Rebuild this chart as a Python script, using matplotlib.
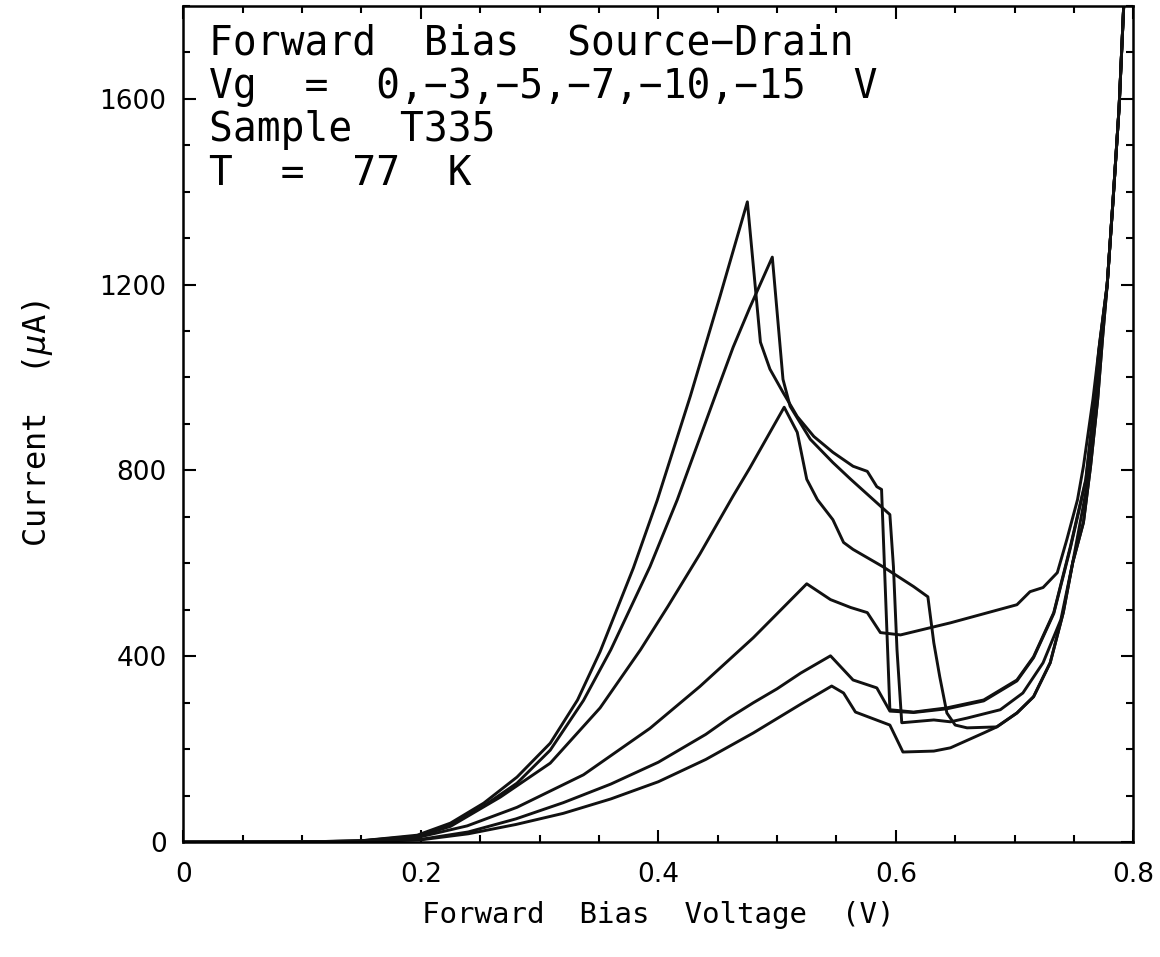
import matplotlib
matplotlib.use("Agg")
import matplotlib.pyplot as plt
from matplotlib.ticker import MultipleLocator

plt.rcParams['font.family'] = ['DejaVu Sans']
plt.rcParams['mathtext.fontset'] = 'dejavusans'

# Vg = 0 V
v1 = [0.0, 0.10, 0.15, 0.197, 0.225, 0.253, 0.281, 0.309, 0.332, 0.351, 0.379, 0.399, 0.427,
      0.452, 0.475, 0.486, 0.494, 0.505, 0.517, 0.531, 0.547, 0.564, 0.576, 0.584, 0.588,
      0.595, 0.615, 0.643, 0.674, 0.702, 0.716, 0.733, 0.747, 0.760, 0.766, 0.771, 0.778, 0.783,
      0.788, 0.792]
i1 = [0, 0.5, 3, 15, 41, 84, 140, 213, 306, 410, 590, 735, 960,
      1175, 1378, 1076, 1018, 968, 916, 873, 839, 809, 798, 765, 759,
      285, 280, 289, 306, 349, 399, 494, 636, 781, 920, 1060, 1200, 1384,
      1580, 1805]

# Vg = -3 V
v2 = [0.0, 0.10, 0.15, 0.197, 0.225, 0.253, 0.281, 0.309, 0.337, 0.360, 0.393, 0.416, 0.435,
      0.450, 0.463, 0.477, 0.496, 0.505, 0.511, 0.528, 0.547, 0.562, 0.595, 0.598, 0.601, 0.605,
      0.632, 0.646, 0.660, 0.688, 0.707, 0.724, 0.739, 0.749, 0.762, 0.768, 0.773, 0.778, 0.783,
      0.788, 0.792]
i2 = [0, 0.5, 3, 13, 37, 78, 127, 198, 305, 414, 593, 737, 870,
      975, 1065, 1150, 1259, 996, 938, 867, 817, 781, 705, 593, 414, 257,
      263, 259, 267, 285, 321, 386, 479, 602, 781, 930, 1075, 1200, 1384,
      1580, 1805]

# Vg = -5 V
v3 = [0.0, 0.10, 0.15, 0.197, 0.225, 0.267, 0.309, 0.351, 0.385, 0.408, 0.435, 0.463, 0.477,
      0.506, 0.517, 0.525, 0.534, 0.547, 0.556, 0.564, 0.589, 0.615, 0.627, 0.632, 0.637, 0.643,
      0.650, 0.660, 0.685, 0.702, 0.716, 0.730, 0.741, 0.749, 0.758, 0.764, 0.770, 0.774, 0.778,
      0.783, 0.788, 0.792]
i3 = [0, 0.4, 2.5, 12, 34, 97, 170, 289, 414, 507, 620, 745, 805,
      936, 882, 781, 737, 694, 645, 630, 593, 550, 528, 429, 356, 278,
      252, 246, 248, 278, 313, 386, 494, 602, 688, 809, 953, 1082, 1200,
      1384, 1580, 1805]

# Vg = -7 V
v4 = [0.0, 0.10, 0.15, 0.197, 0.239, 0.281, 0.337, 0.393, 0.435, 0.480, 0.525, 0.545,
      0.562, 0.576, 0.587, 0.604, 0.646, 0.702, 0.713, 0.724, 0.736, 0.744, 0.753, 0.758, 0.766,
      0.772, 0.778, 0.783, 0.788, 0.792]
i4 = [0, 0.3, 2, 10, 35, 75, 145, 245, 335, 440, 556, 522,
      505, 494, 451, 446, 472, 511, 539, 548, 580, 651, 737, 809, 953,
      1082, 1200, 1384, 1580, 1805]

# Vg = -10 V
v5 = [0.0, 0.10, 0.15, 0.20, 0.24, 0.28, 0.32, 0.36, 0.40, 0.44, 0.46, 0.48, 0.50, 0.52, 0.545,
      0.564, 0.584, 0.595, 0.615, 0.643, 0.674, 0.702, 0.716, 0.733, 0.747, 0.760, 0.766, 0.771,
      0.778, 0.783, 0.788, 0.792]
i5 = [0, 0.2, 1.5, 6, 22, 50, 85, 125, 172, 232, 268, 300, 330, 364, 401,
      349, 332, 282, 279, 287, 304, 347, 397, 492, 633, 778, 915, 1055,
      1200, 1384, 1580, 1805]

# Vg = -15 V
v6 = [0.0, 0.10, 0.15, 0.20, 0.24, 0.28, 0.32, 0.36, 0.40, 0.44, 0.48, 0.52,
      0.546, 0.556, 0.566, 0.595, 0.606, 0.632, 0.646, 0.674, 0.685, 0.702, 0.716, 0.730, 0.741,
      0.749, 0.758, 0.764, 0.770, 0.774, 0.778, 0.783, 0.788, 0.792]
i6 = [0, 0.2, 1.2, 5, 18, 38, 62, 93, 130, 178, 235, 297,
      336, 321, 280, 252, 194, 196, 203, 235, 248, 278, 313, 386, 494,
      602, 688, 809, 953, 1082, 1200, 1384, 1580, 1805]

curves = [(v1, i1), (v2, i2), (v3, i3), (v4, i4), (v5, i5), (v6, i6)]

note_lines = ["Forward  Bias  Source\u2212Drain",
              "Vg  =  0,\u22123,\u22125,\u22127,\u221210,\u221215  V",
              "Sample  T335",
              "T  =  77  K"]

fig = plt.figure(figsize=(11.6, 9.57), dpi=100)
ax = fig.add_axes([0.158, 0.12, 0.819, 0.874])

for v, i in curves:
    ax.plot(v, i, color='#111111', lw=2.1, solid_joinstyle='round')

ax.set_xlim(0, 0.8)
ax.set_ylim(0, 1800)
ax.set_xticks([0, 0.2, 0.4, 0.6, 0.8])
ax.set_xticklabels(['0', '0.2', '0.4', '0.6', '0.8'])
ax.xaxis.set_minor_locator(MultipleLocator(0.05))
ax.yaxis.set_major_locator(MultipleLocator(400))
ax.yaxis.set_minor_locator(MultipleLocator(100))
ax.tick_params(which='both', direction='in', top=True, right=True, labelsize=19, width=1.5)
ax.tick_params(axis='x', pad=14)
ax.tick_params(axis='y', pad=12)
ax.tick_params(which='major', length=9)
ax.tick_params(which='minor', length=5)
for s in ax.spines.values():
    s.set_linewidth(1.8)

ax.set_xlabel("Forward  Bias  Voltage  (V)", fontsize=21, family='DejaVu Sans Mono', labelpad=10)
ax.set_ylabel("Current  ($\\mu$A)", fontsize=23, family='DejaVu Sans Mono', labelpad=32)

for k, line in enumerate(note_lines):
    ax.text(0.027, 0.955 - k * 0.052, line, transform=ax.transAxes, fontsize=28.5,
            family='DejaVu Sans Mono', va='center', ha='left')

fig.savefig("out.png", dpi=100)
